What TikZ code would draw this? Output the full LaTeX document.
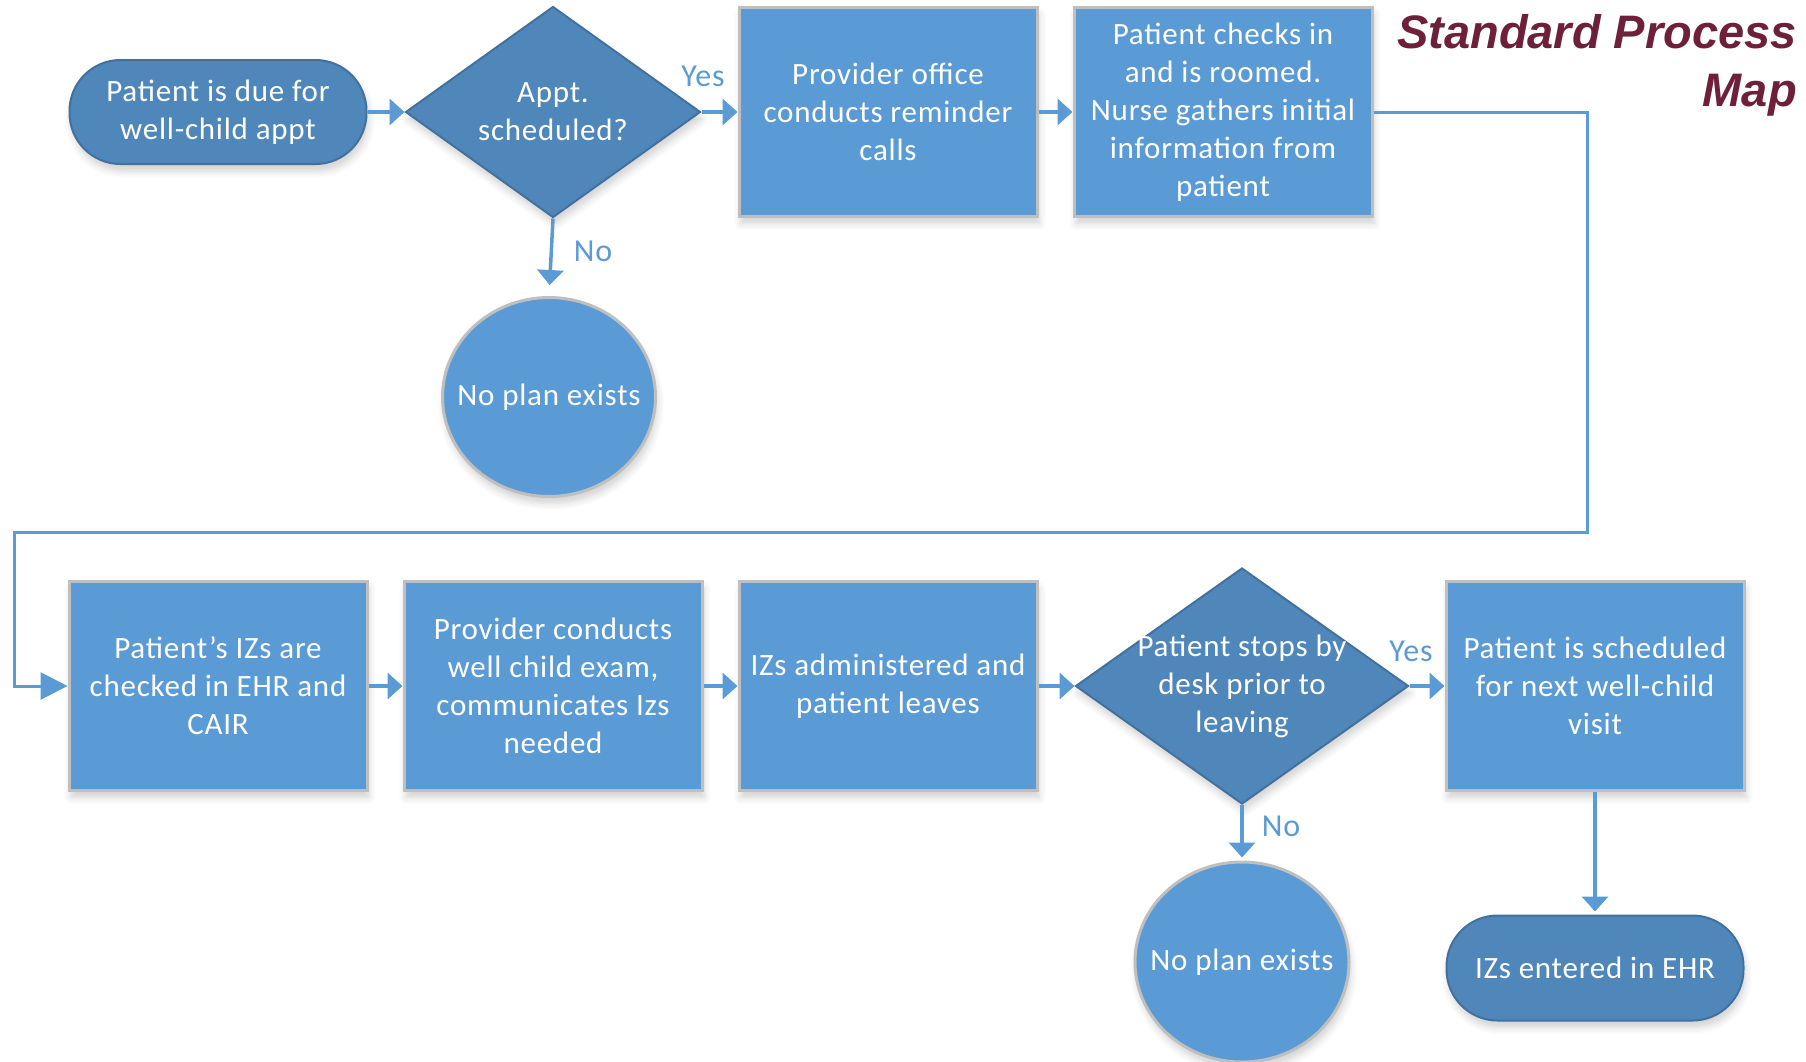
\documentclass[tikz,border=0pt]{standalone}
\usepackage{fontspec}
\setmainfont[LetterSpace=2.5]{Carlito}
\newfontfamily\titlefont{Liberation Sans}
\usetikzlibrary{shapes.geometric,arrows.meta,shadows.blur}
\definecolor{lineblue}{HTML}{5B9BD5}
\definecolor{boxblue}{HTML}{5B9BD5}
\definecolor{darkblue}{HTML}{4F87BA}
\definecolor{darkedge}{HTML}{41719C}
\definecolor{greyedge}{HTML}{BFBFBF}
\definecolor{maroon}{RGB}{110,32,58}
\tikzset{
  sh/.style={blur shadow={shadow xshift=2pt, shadow yshift=-7pt, shadow blur steps=6, shadow opacity=18, shadow blur radius=7pt}},
  txt/.style={text=white, align=center, font=\fontsize{31}{38}\selectfont},
  procbox/.style={rectangle, sh, fill=boxblue, draw=greyedge, line width=3pt, minimum width=298pt, minimum height=209pt, inner sep=0pt, txt},
  termbox/.style={rectangle, rounded corners=51pt, sh, fill=darkblue, draw=darkedge, line width=2pt, minimum width=297pt, minimum height=104pt, inner sep=0pt, txt},
  decbox/.style={diamond, sh, fill=darkblue, draw=darkedge, line width=2pt, inner sep=0pt},
  endcirc/.style={ellipse, sh, fill=boxblue, draw=greyedge, line width=3pt, minimum width=213pt, minimum height=199pt, inner sep=0pt},
  flow/.style={draw=lineblue, line width=3.5pt, -{Triangle[length=15pt,width=26pt]}},
  loopline/.style={draw=lineblue, line width=3pt, -{Triangle[length=27pt,width=27pt]}},
  lbl/.style={text=lineblue, font=\fontsize{32}{38}\selectfont}
}
\begin{document}
\begin{tikzpicture}[x=1pt,y=-1pt]
\useasboundingbox (0,0) rectangle (1806,1061);
% top row
\node[termbox] (t1) at (218,112) {Patient is due for\\well-child appt};
\node[decbox, minimum width=295pt, minimum height=211pt] (d1) at (553,112) {};
\node[txt] (d1t) at (553,112) {Appt.\\scheduled?};
\node[procbox] (b1) at (888,112) {Provider office\\conducts reminder\\calls};
\node[procbox] (b2) at (1223,112) {Patient checks in\\and is roomed.\\Nurse gathers initial\\information from\\patient};
\node[endcirc] (c1) at (549,397) {};
\node[txt] (c1t) at (549,397) {No plan exists};
% bottom row
\node[procbox] (b3) at (218,686) {Patient’s IZs are\\checked in EHR and\\CAIR};
\node[procbox] (b4) at (553,686) {Provider conducts\\well child exam,\\communicates Izs\\needed};
\node[procbox] (b5) at (888,686) {IZs administered and\\patient leaves};
\node[decbox, minimum width=333pt, minimum height=236pt] (d2) at (1242,686) {};
\node[txt] (d2t) at (1242,686) {Patient stops by\\desk prior to\\leaving};
\node[procbox] (b6) at (1595,686) {Patient is scheduled\\for next well-child\\visit};
\node[endcirc, minimum width=214pt, minimum height=200pt] (c2) at (1242,962) {};
\node[txt] (c2t) at (1242,962) {No plan exists};
\node[termbox, minimum height=105pt] (t2) at (1595,968) {IZs entered in EHR};
% title
\node[anchor=north east, align=right, text=maroon, inner sep=0pt, font=\titlefont\bfseries\itshape\fontsize{47}{58}\selectfont] (title) at (1797,14) {Standard Process\\Map};
% connectors
\draw[flow] (t1.east) -- (d1.west);
\draw[flow] (d1.east) -- (b1.west);
\draw[flow] (b1.east) -- (b2.west);
\draw[flow, shorten >=11pt] (d1.south) -- (c1.north);
\coordinate (lr) at (1587,532);
\coordinate (ll) at (14,532);
\draw[loopline] (b2.east) -| (lr) -- (ll) |- (b3.west);
\draw[flow] (b3.east) -- (b4.west);
\draw[flow] (b4.east) -- (b5.west);
\draw[flow] (b5.east) -- (d2.west);
\draw[flow] (d2.east) -- (b6.west);
\draw[flow, shorten >=3pt] (d2.south) -- (c2.north);
\draw[flow, shorten >=3pt] (b6.south) -- (t2.north);
% labels
\node[lbl] (yes1) at (703,76) {Yes};
\node[lbl] (no1) at (593,251) {No};
\node[lbl] (yes2) at (1411,651) {Yes};
\node[lbl] (no2) at (1281,826) {No};
\end{tikzpicture}
\end{document}
